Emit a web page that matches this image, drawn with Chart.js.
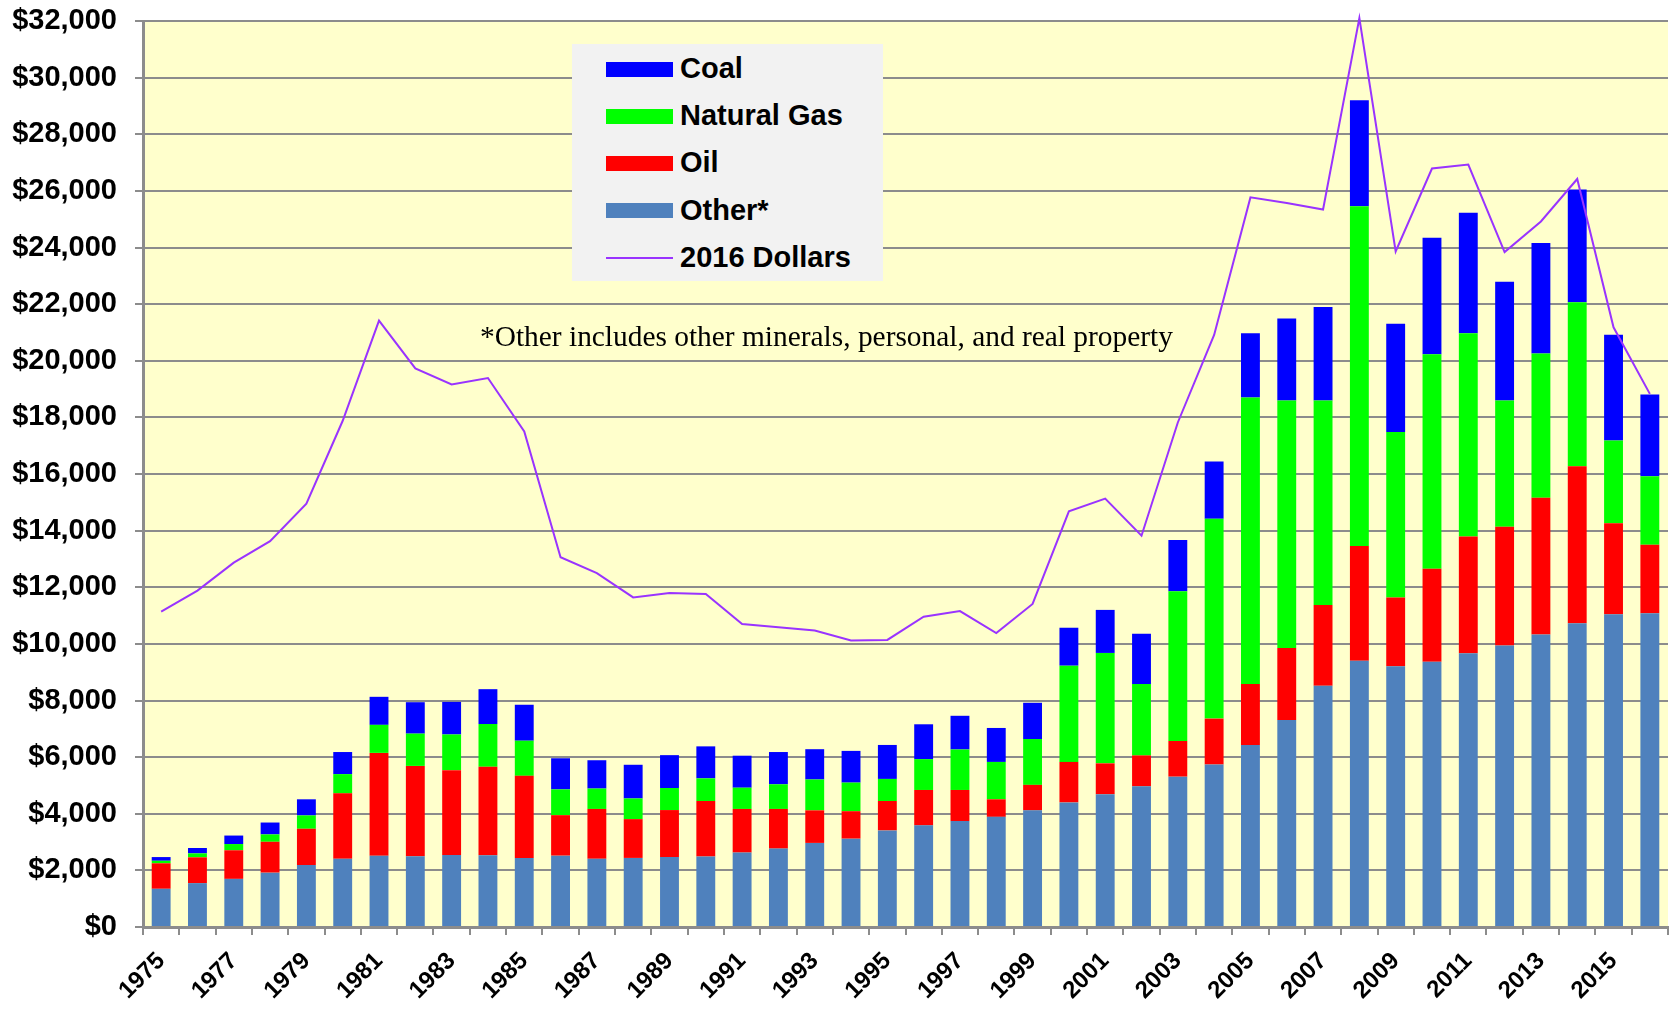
<!DOCTYPE html>
<html>
<head>
<meta charset="utf-8">
<script src="https://cdn.jsdelivr.net/npm/chart.js@4/dist/chart.umd.min.js"></script>
<style>
  html, body { margin: 0; padding: 0; background: #fff; }
  #wrap { position: relative; width: 1671px; height: 1010px; }
  #legend { position: absolute; left: 572px; top: 44px; width: 311px; height: 237px; background: #F2F2F2; }
  .lrow { position: absolute; left: 0; height: 40px; width: 311px; }
  .sw { position: absolute; left: 34px; width: 67px; }
  .lt { position: absolute; left: 108px; top: 3px; line-height: 40px; font: bold 29px "Liberation Sans", Arial, sans-serif; color: #000; white-space: nowrap; }
  #note { position: absolute; left: 480px; top: 320px; font: 29.4px "Liberation Serif", "Times New Roman", serif; color: #000; white-space: nowrap; }
</style>
</head>
<body>
<div id="wrap">
  <canvas id="c" width="1671" height="1010"></canvas>
  <div id="legend"></div>
  <div id="note">*Other includes other minerals, personal, and real property</div>
</div>
<script>
const years = [1975,1976,1977,1978,1979,1980,1981,1982,1983,1984,1985,1986,1987,1988,1989,1990,1991,1992,1993,1994,1995,1996,1997,1998,1999,2000,2001,2002,2003,2004,2005,2006,2007,2008,2009,2010,2011,2012,2013,2014,2015,2016];
const other = [1350,1550,1700,1920,2190,2410,2520,2500,2540,2530,2440,2520,2410,2440,2470,2490,2630,2770,2970,3120,3410,3590,3740,3890,4120,4400,4690,4970,5310,5740,6430,7310,8520,9400,9210,9370,9670,9940,10330,10730,11050,11080];
const oil = [900,910,1010,1090,1280,2310,3630,3190,3000,3130,2900,1430,1760,1370,1660,1960,1540,1400,1150,970,1040,1250,1100,620,900,1430,1090,1090,1260,1620,2150,2540,2850,4060,2430,3280,4120,4200,4830,5540,3210,2420];
const naturalGas = [90,140,220,260,470,680,990,1140,1260,1510,1240,910,720,730,780,800,750,870,1090,1010,780,1090,1430,1320,1620,3400,3900,2520,5290,7060,10120,8750,7230,12000,5840,7580,7180,4460,5100,5800,2920,2420];
const coal = [130,190,300,420,570,780,990,1110,1150,1230,1270,1100,1000,1190,1160,1130,1130,1140,1070,1120,1200,1230,1190,1200,1280,1340,1520,1780,1810,2020,2270,2890,3300,3740,3830,4110,4260,4190,3900,3980,3740,2890];
const dollars2016 = [11140,11880,12870,13630,14950,17880,21420,19730,19160,19390,17500,13060,12500,11640,11800,11760,10700,10590,10470,10120,10140,10960,11160,10380,11410,14680,15130,13820,17820,20910,25770,25570,25340,32100,23860,26790,26930,23840,24920,26420,21180,18830];
const yTicks = [0,2000,4000,6000,8000,10000,12000,14000,16000,18000,20000,22000,24000,26000,28000,30000,32000];

const GRID = '#8c8c8c';
const FONT = '"Liberation Sans", Arial, sans-serif';

const bgPlugin = {
  id: 'bg',
  beforeDraw(chart) {
    const {ctx, chartArea: a} = chart;
    ctx.save();
    ctx.fillStyle = '#FFFFCC';
    ctx.fillRect(a.left, a.top, a.right - a.left, a.bottom - a.top);
    ctx.restore();
  }
};

const datasets = [
  {label: 'Other*', data: other, backgroundColor: '#4F81BD', stack: 'bars', order: 2},
  {label: 'Oil', data: oil, backgroundColor: '#FF0000', stack: 'bars', order: 2},
  {label: 'Natural Gas', data: naturalGas, backgroundColor: '#00FF00', stack: 'bars', order: 2},
  {label: 'Coal', data: coal, backgroundColor: '#0000FF', stack: 'bars', order: 2},
  {type: 'line', label: '2016 Dollars', data: dollars2016, borderColor: '#9933FF', borderWidth: 2,
   pointRadius: 0, tension: 0, fill: false, stack: 'line', order: 0, clip: false}
];
datasets.forEach(d => { if (!d.type) { d.barPercentage = 0.52; d.categoryPercentage = 1; d.borderWidth = 0; } });

new Chart(document.getElementById('c'), {
  type: 'bar',
  data: {labels: years.map(String), datasets},
  options: {
    responsive: false,
    animation: false,
    layout: {padding: {top: 21, right: 3, left: 0, bottom: 0}},
    plugins: {legend: {display: false}, tooltip: {enabled: false}},
    scales: {
      x: {
        stacked: true,
        offset: true,
        grid: {offset: true, drawOnChartArea: false, drawTicks: true, tickLength: 8, color: GRID, lineWidth: 2},
        border: {color: GRID, width: 3},
        ticks: {
          autoSkip: false, maxRotation: 45, minRotation: 45, color: '#000', padding: 12,
          font: {family: FONT, size: 24, weight: 'bold'},
          callback: (v, i) => (i % 2 === 0 ? String(years[i]) : '')
        },
        afterFit: s => { s.height = 83; s.paddingLeft = 0; s.paddingRight = 0; }
      },
      y: {
        stacked: true,
        min: yTicks[0], max: yTicks[yTicks.length - 1],
        afterBuildTicks: s => { s.ticks = yTicks.map(v => ({value: v})); },
        grid: {color: GRID, lineWidth: 2, tickLength: 8},
        border: {color: GRID, width: 3},
        ticks: {
          color: '#000', padding: 18,
          font: {family: FONT, size: 29, weight: 'bold'},
          callback: v => '$' + Number(v).toLocaleString('en-US')
        },
        afterFit: s => { s.width = 143; s.paddingTop = 0; s.paddingBottom = 0; }
      }
    }
  },
  plugins: [bgPlugin]
});

// Legend (HTML text), order as in reference
const legendItems = [
  {label: 'Coal', color: '#0000FF', kind: 'bar'},
  {label: 'Natural Gas', color: '#00FF00', kind: 'bar'},
  {label: 'Oil', color: '#FF0000', kind: 'bar'},
  {label: 'Other*', color: '#4F81BD', kind: 'bar'},
  {label: '2016 Dollars', color: '#9933FF', kind: 'line'}
];
const rowCenters = [25, 72, 119, 166.5, 213.5];
const lg = document.getElementById('legend');
legendItems.forEach((it, i) => {
  const row = document.createElement('div');
  row.className = 'lrow';
  row.style.top = (rowCenters[i] - 20) + 'px';
  const sw = document.createElement('div');
  sw.className = 'sw';
  if (it.kind === 'bar') { sw.style.height = '15px'; sw.style.top = '12.5px'; }
  else { sw.style.height = '2px'; sw.style.top = '19px'; }
  sw.style.background = it.color;
  const t = document.createElement('div');
  t.className = 'lt';
  t.textContent = it.label;
  row.appendChild(sw); row.appendChild(t);
  lg.appendChild(row);
});
</script>
</body>
</html>
